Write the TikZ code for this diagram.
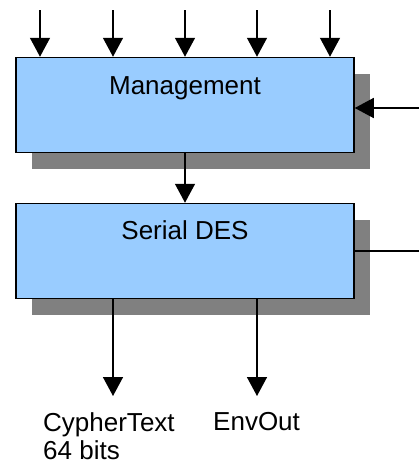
\documentclass[tikz,border=0pt]{standalone}
\usepackage{fontspec}
\setmainfont{Liberation Sans}
\usepackage{xcolor}
\usepackage{tikz}
\usetikzlibrary{arrows.meta,shapes,shadows,positioning}

\definecolor{blkblue}{HTML}{99CCFF}

\begin{document}
\begin{tikzpicture}[
    x=1pt,y=-1pt,
    blk/.style={rectangle,draw,line width=1.5pt,fill=blkblue,minimum width=338pt,minimum height=95pt,
        drop shadow={shadow xshift=16pt,shadow yshift=-16pt,fill=black!50,opacity=1}},
    lbl/.style={inner sep=0pt,font=\fontsize{26}{28}\selectfont},
    arrow/.style={-{Triangle[width=20pt,length=19pt]},line width=1.5pt},
    wire/.style={line width=1.5pt}
]
    \useasboundingbox (0,0) rectangle (419,463);

    % Management block
    \node[blk] (mgmt) at (185,105) {};
    \node[lbl,anchor=north] (mgmtlbl) at (185,76) {Management};

    % Inputs on top
    \foreach \x [count=\i] in {40,113,185,257,330} {
        \coordinate (in\i) at (\x,10);
        \draw[arrow] (in\i) -- (in\i |- mgmt.north);
    }

    % Control input from the right
    \coordinate (ctl) at (419,108);
    \draw[arrow] (ctl) -- (ctl -| mgmt.east);

    % Serial DES block
    \node[blk] (des) at (185,251) {};
    \node[lbl,anchor=north] (deslbl) at (185,220) {Serial DES};
    \draw[arrow] (mgmt.south) -- (des.north);

    % Output line to the right
    \coordinate (stat) at (419,251);
    \draw[wire] (stat -| des.east) -- (stat);

    % Outputs
    \coordinate (ct) at (113,396);
    \draw[arrow] (ct |- des.south) -- (ct);
    \coordinate (env) at (257,396);
    \draw[arrow] (env |- des.south) -- (env);

    \node[lbl,anchor=north west,align=left] (ctlbl) at (43,412) {CypherText\\64 bits};
    \node[lbl,anchor=north west] (envlbl) at (213,412) {EnvOut};
\end{tikzpicture}
\end{document}
